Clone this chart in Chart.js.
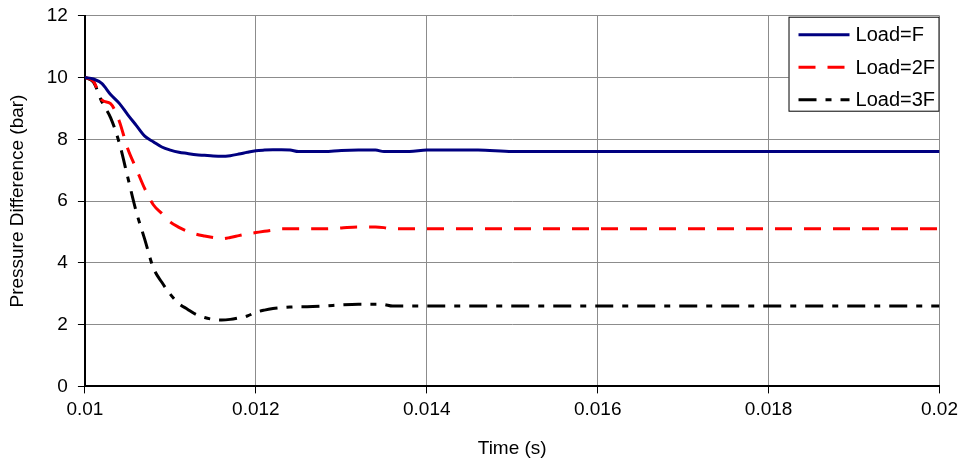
<!DOCTYPE html>
<html>
<head>
<meta charset="utf-8">
<script src="https://cdn.jsdelivr.net/npm/chart.js@4"></script>
<style>
  html, body { margin: 0; padding: 0; background: #fff; }
  #wrap { width: 963px; height: 464px; }
</style>
</head>
<body>
<div id="wrap"><canvas id="lineChart" width="963" height="464"></canvas></div>
<script>
// time (s)
const times = [0.0100, 0.0101, 0.0102, 0.0103, 0.0104, 0.0105, 0.0106, 0.0107, 0.0108, 0.0109,
               0.0110, 0.0111, 0.0112, 0.0113, 0.0114, 0.0115, 0.0116, 0.0117, 0.0118, 0.0119,
               0.0120, 0.0121, 0.0122, 0.0123, 0.0124, 0.0125, 0.0126, 0.0128, 0.0130, 0.0132,
               0.0134, 0.0135, 0.0136, 0.0138, 0.0140, 0.0143, 0.0146, 0.0150, 0.0160, 0.0170,
               0.0180, 0.0190, 0.0200];
// pressure difference (bar)
const loadF  = [10.0, 9.95, 9.8, 9.45, 9.17, 8.8, 8.45, 8.1, 7.92, 7.75,
                7.65, 7.58, 7.54, 7.5, 7.48, 7.46, 7.45, 7.47, 7.52, 7.58,
                7.63, 7.65, 7.66, 7.66, 7.65, 7.6, 7.6, 7.6, 7.64, 7.65,
                7.65, 7.6, 7.6, 7.6, 7.65, 7.65, 7.65, 7.6, 7.6, 7.6,
                7.6, 7.6, 7.6];
const load2F = [10.0, 9.88, 9.27, 9.15, 8.6, 7.7, 7.05, 6.4, 5.88, 5.6,
                5.32, 5.15, 5.02, 4.93, 4.87, 4.82, 4.78, 4.82, 4.88, 4.94,
                4.98, 5.02, 5.06, 5.1, 5.1, 5.1, 5.1, 5.1, 5.13, 5.16,
                5.16, 5.14, 5.1, 5.1, 5.1, 5.1, 5.1, 5.1, 5.1, 5.1,
                5.1, 5.1, 5.1];
const load3F = [10.0, 9.85, 9.2, 8.7, 7.9, 6.78, 5.66, 4.76, 3.84, 3.37,
                2.98, 2.68, 2.5, 2.33, 2.23, 2.17, 2.15, 2.17, 2.22, 2.28,
                2.4, 2.47, 2.52, 2.55, 2.57, 2.58, 2.58, 2.6, 2.64, 2.66,
                2.66, 2.65, 2.6, 2.6, 2.6, 2.6, 2.6, 2.6, 2.6, 2.6,
                2.6, 2.6, 2.6];
const seriesLabels = ['Load=F', 'Load=2F', 'Load=3F'];

const toPoints = vals => vals.map((v, i) => ({ x: times[i], y: v }));
const FONT = "'Liberation Sans', Arial, sans-serif";

// legend box drawn inside the plot area, top-right
const boxLegend = {
    id: 'boxLegend',
    afterDraw(chart) {
        const ctx = chart.ctx;
        const area = chart.chartArea;
        const w = 151, h = 95;
        const x0 = area.right - w, y0 = area.top + 1;
        ctx.save();
        ctx.fillStyle = '#fff';
        ctx.fillRect(x0, y0, w, h);
        ctx.strokeStyle = '#000';
        ctx.lineWidth = 1;
        ctx.strokeRect(x0 + 0.5, y0 + 0.5, w - 1, h - 1);
        ctx.font = '20px ' + FONT;
        ctx.textBaseline = 'middle';
        chart.data.datasets.forEach((ds, i) => {
            const y = y0 + 18 + i * 32.5;
            ctx.beginPath();
            ctx.setLineDash(ds.borderDash || []);
            ctx.strokeStyle = ds.borderColor;
            ctx.lineWidth = 3;
            ctx.moveTo(x0 + 10, y);
            ctx.lineTo(x0 + 61, y);
            ctx.stroke();
            ctx.setLineDash([]);
            ctx.fillStyle = '#000';
            ctx.fillText(ds.label, x0 + 67, y + 1);
        });
        ctx.restore();
    }
};

document.addEventListener("DOMContentLoaded", () => {
    const ctx = document.getElementById("lineChart").getContext("2d");

    new Chart(ctx, {
        type: 'line',
        data: {
            datasets: [
                { label: seriesLabels[0], data: toPoints(loadF), borderColor: '#000080', borderWidth: 3 },
                { label: seriesLabels[1], data: toPoints(load2F), borderColor: '#ff0000', borderWidth: 3, borderDash: [17, 12] },
                { label: seriesLabels[2], data: toPoints(load3F), borderColor: '#000000', borderWidth: 3, borderDash: [18, 9, 6, 9] }
            ]
        },
        options: {
            responsive: false,
            animation: false,
            layout: { padding: { top: 2, right: 23, left: 6, bottom: 4 } },
            elements: {
                point: { radius: 0 },
                line: { cubicInterpolationMode: 'monotone', borderCapStyle: 'butt' }
            },
            plugins: {
                legend: { display: false },
                tooltip: { enabled: false }
            },
            scales: {
                x: {
                    type: 'linear',
                    min: 0.01,
                    max: 0.02,
                    ticks: {
                        stepSize: 0.002,
                        color: '#000',
                        font: { family: FONT, size: 19 },
                        padding: 5,
                        callback: v => parseFloat(v.toFixed(4)).toString()
                    },
                    grid: { color: '#8c8c8c', lineWidth: 1, tickColor: '#000', tickLength: 7 },
                    border: { color: '#000', width: 2 },
                    title: {
                        display: true,
                        text: 'Time (s)',
                        color: '#000',
                        font: { family: FONT, size: 19 },
                        padding: { top: 11, bottom: 0 }
                    }
                },
                y: {
                    min: 0,
                    max: 12,
                    ticks: {
                        stepSize: 2,
                        color: '#000',
                        font: { family: FONT, size: 19, lineHeight: 0.6 },
                        padding: 10
                    },
                    grid: { color: '#8c8c8c', lineWidth: 1, tickColor: '#000', tickLength: 7 },
                    border: { color: '#000', width: 2 },
                    title: {
                        display: true,
                        text: 'Pressure Difference (bar)',
                        color: '#000',
                        font: { family: FONT, size: 19 },
                        padding: { top: 0, bottom: 8 }
                    }
                }
            }
        },
        plugins: [boxLegend]
    });
});
</script>
</body>
</html>
